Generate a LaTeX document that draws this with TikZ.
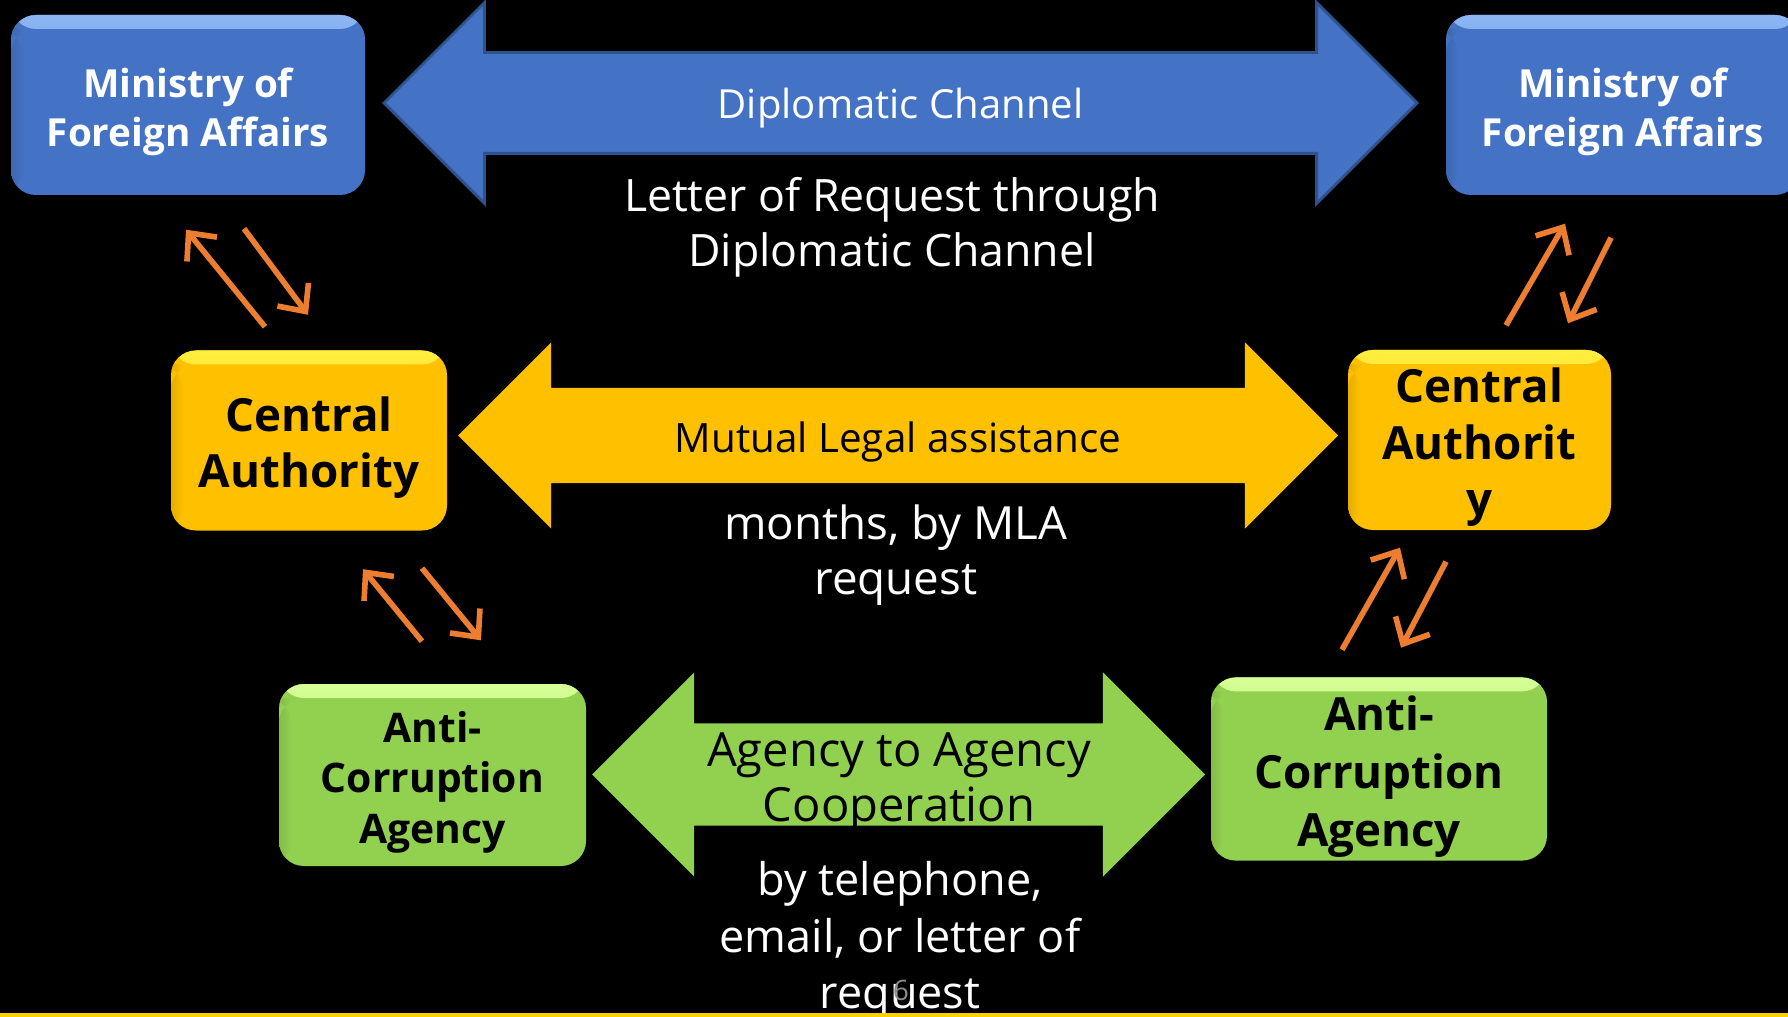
\documentclass[tikz,border=0pt]{standalone}
\usepackage{fontspec}
\setmainfont{Open Sans}
\usetikzlibrary{arrows.meta, positioning, shapes.arrows}
\definecolor{mfablue}{HTML}{4472C4}
\definecolor{mfalight}{HTML}{8DB6F4}
\definecolor{mfaedge}{HTML}{2F528F}
\definecolor{cagold}{HTML}{FFC000}
\definecolor{calight}{HTML}{FFEE40}
\definecolor{acagreen}{HTML}{92D050}
\definecolor{acalight}{HTML}{D6FF96}
\definecolor{linkorange}{HTML}{ED7D31}
\definecolor{rulegold}{HTML}{FFD000}
\definecolor{pagegray}{HTML}{8C8C8C}

\begin{document}
\begin{tikzpicture}[
  box/.style={
    rectangle, rounded corners=0.25cm, align=center, inner sep=1pt
  },
  glossy/.style 2 args={
    fill=#1,
    path picture={
      \shade[top color=#2, bottom color=#1]
        (path picture bounding box.north west)
        rectangle ([yshift=-0.14cm]path picture bounding box.north east);
      \shade[left color=#1!90!black, right color=#1]
        (path picture bounding box.south west)
        rectangle ([xshift=0.12cm, yshift=-0.14cm]path picture bounding box.north west);
    }
  },
  mfa/.style={box, glossy={mfablue}{mfalight}, text=white,
    minimum width=3.54cm, minimum height=1.80cm, text height=26pt,
    font=\bfseries\fontsize{11}{13.7}\selectfont},
  ca/.style={box, glossy={cagold}{calight}, text=black,
    minimum height=1.80cm,
    font=\bfseries\fontsize{13}{16}\selectfont},
  aca/.style={box, glossy={acagreen}{acalight}, text=black,
    minimum height=1.82cm},
  channel/.style={double arrow, double arrow head extend=#1, inner xsep=0pt},
  link/.style={-{Straight Barb[length=6pt, width=11pt]}, line width=1.6pt,
    color=linkorange},
  note/.style={text=white, align=center}
]

\useasboundingbox (0,0) rectangle (17.88,-10.17);
\fill[black] (0,0) rectangle (17.88,-10.17);
\clip (0,0) rectangle (17.88,-10.17);

% Channels between the two sides
\node[channel=0.5cm, inner ysep=0.49cm, fill=mfablue, draw=mfaedge, line width=0.8pt,
  minimum height=10.33cm, minimum width=2.0cm] (dipl) at (9.005,-1.03) {};
\node[channel=0.455cm, inner ysep=0.47cm, fill=cagold,
  minimum height=8.80cm, minimum width=1.85cm] (mla) at (8.98,-4.355) {};
\node[channel=0.51cm, inner ysep=0.505cm, fill=acagreen,
  minimum height=6.13cm, minimum width=2.03cm] (coop) at (8.985,-7.745) {};

% Left side
\node[mfa] (mfaL) at (1.88,-1.05) {Ministry of\\Foreign Affairs};
\node[ca, minimum width=2.76cm, text height=30pt] (caL) at (3.09,-4.405) {Central\\Authority};
\node[aca, minimum width=3.07cm, text height=41.5pt,
  font=\bfseries\fontsize{11.6}{14.3}\selectfont]
  (acaL) at (4.325,-7.75) {Anti-\\Corruption\\Agency};

% Right side
\node[mfa] (mfaR) at (16.23,-1.05) {Ministry of\\Foreign Affairs};
\node[ca, minimum width=2.63cm, text height=46pt] (caR) at (14.795,-4.40) {Central\\Authorit\\y};
\node[aca, minimum width=3.36cm, text height=47pt,
  font=\bfseries\fontsize{13}{16.5}\selectfont]
  (acaR) at (13.79,-7.69) {Anti-\\Corruption\\Agency};

% Channel labels
\node[text=white, font=\fontsize{11.4}{14}\selectfont] (diplText) at ([yshift=-0.05cm]dipl.center) {Diplomatic Channel};
\node[note, font=\fontsize{12.7}{15.6}\selectfont] (letter) at (8.92,-2.27)
  {Letter of Request through\\Diplomatic Channel};
\node[font=\fontsize{11.5}{14}\selectfont] (mlaText) at ([yshift=-0.07cm]mla.center) {Mutual Legal assistance};
\node[note, font=\fontsize{13}{15.6}\selectfont] (months) at (8.96,-5.55)
  {months, by MLA\\request};
\node[align=center, font=\fontsize{13.4}{15.6}\selectfont] (coopText) at (8.99,-7.83)
  {Agency to Agency\\Cooperation};
\node[note, font=\fontsize{12.8}{16}\selectfont] (phone) at (9.0,-9.405)
  {by telephone,\\email, or letter of\\request};
\node[text=pagegray, font=\fontsize{8}{9}\selectfont] (pageno) at (9.01,-9.90) {6};

% Requests up and answers down
\draw[link] ([shift={(-0.44,0.23)}]caL.north) -- ([shift={(-0.02,-0.34)}]mfaL.south);
\draw[link] ([shift={(0.56,-0.33)}]mfaL.south) -- ([shift={(-0.01,0.35)}]caL.north);
\draw[link] ([shift={(-0.105,0.42)}]acaL.north) -- ([shift={(0.54,-0.38)}]caL.south);
\draw[link] ([shift={(1.13,-0.37)}]caL.south) -- ([shift={(0.485,0.43)}]acaL.north);
\draw[link] ([shift={(0.265,0.24)}]caR.north) -- ([shift={(-0.58,-0.28)}]mfaR.south);
\draw[link] ([shift={(-0.12,-0.42)}]mfaR.south) -- ([shift={(0.885,0.26)}]caR.north);
\draw[link] ([shift={(-0.37,0.27)}]acaR.north) -- ([shift={(-0.795,-0.17)}]caR.south);
\draw[link] ([shift={(-0.335,-0.31)}]caR.south) -- ([shift={(0.22,0.29)}]acaR.north);

% Bottom rule
\fill[rulegold] (0,-10.13) rectangle (17.88,-10.17);

\end{tikzpicture}
\end{document}
